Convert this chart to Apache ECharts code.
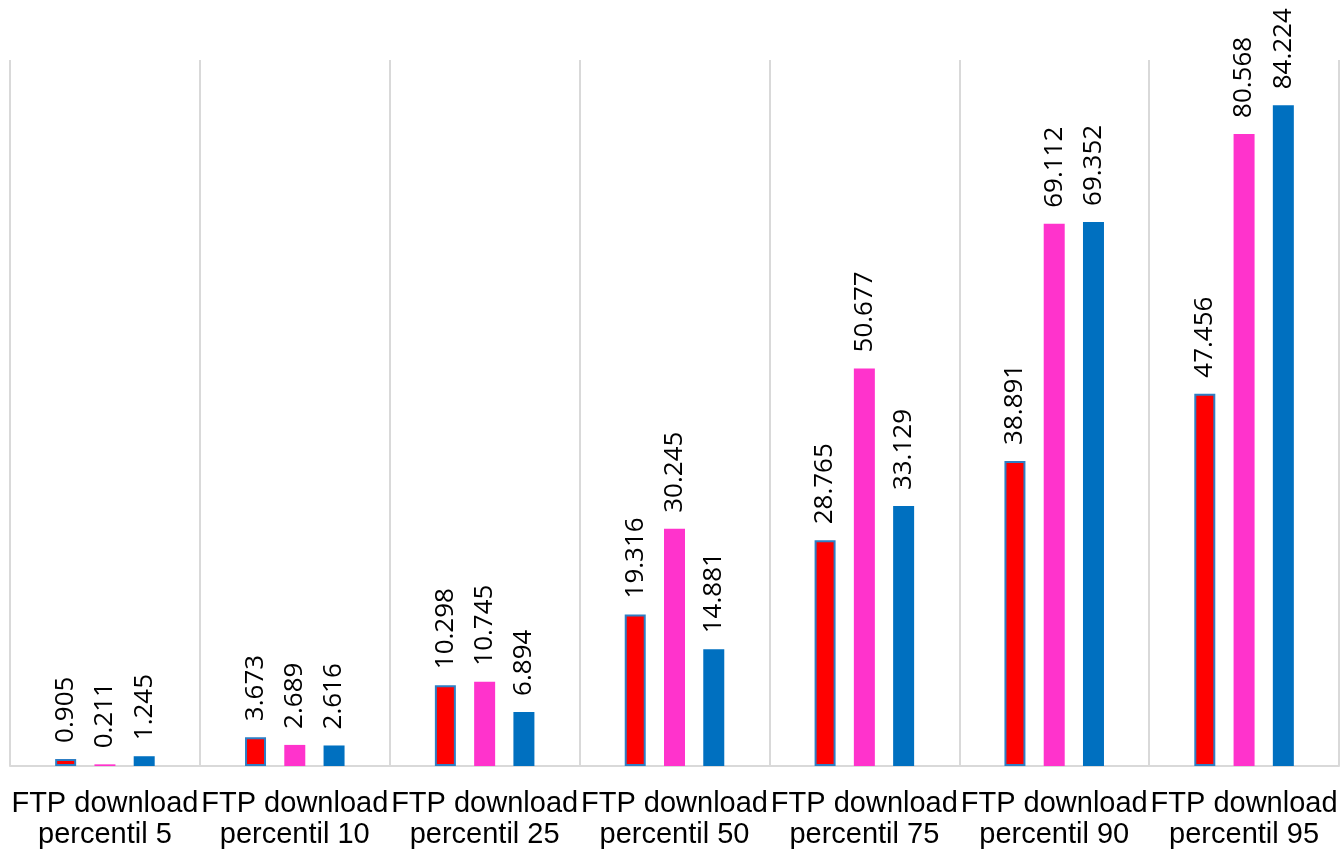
<!DOCTYPE html>
<html>
<head>
<meta charset="utf-8">
<script src="https://cdn.jsdelivr.net/npm/echarts@6/dist/echarts.min.js"></script>
<style>
html,body{margin:0;padding:0;background:#fff;}
#chart{width:1344px;height:855px;}
</style>
</head>
<body>
<div id="chart"></div>
<script>
var categories = [
  "FTP download\npercentil 5",
  "FTP download\npercentil 10",
  "FTP download\npercentil 25",
  "FTP download\npercentil 50",
  "FTP download\npercentil 75",
  "FTP download\npercentil 90",
  "FTP download\npercentil 95"
];
var seriesRed  = [0.905, 3.673, 10.298, 19.316, 28.765, 38.891, 47.456];
var seriesPink = [0.211, 2.689, 10.745, 30.245, 50.677, 69.112, 80.568];
var seriesBlue = [1.245, 2.616, 6.894, 14.881, 33.129, 69.352, 84.224];

var labelCfg = {
  show: true,
  position: 'top',
  rotate: 90,
  align: 'left',
  verticalAlign: 'middle',
  distance: 16,
  fontFamily: 'Open Sans',
  fontSize: 26,
  color: '#000',
  formatter: function (p) { return p.value.toFixed(3); }
};

var chart = echarts.init(document.getElementById('chart'));
chart.setOption({
  animation: false,
  backgroundColor: '#fff',
  grid: { left: 10, right: 5, top: 60, bottom: 89, containLabel: false },
  xAxis: {
    type: 'category',
    data: categories,
    boundaryGap: true,
    axisLine: { show: true, lineStyle: { color: '#d9d9d9', width: 2 } },
    axisTick: { show: false },
    splitLine: { show: true, lineStyle: { color: '#d9d9d9', width: 2 } },
    axisLabel: {
      interval: 0,
      margin: 22,
      fontFamily: 'Liberation Sans',
      fontSize: 29,
      lineHeight: 31,
      color: '#000'
    }
  },
  yAxis: {
    type: 'value',
    min: 0,
    max: 90,
    show: false,
    splitLine: { show: false }
  },
  series: [
    {
      type: 'bar', data: seriesRed, barWidth: 21, barGap: '87%',
      itemStyle: { color: '#ff0000', borderColor: '#2e7ec4', borderWidth: 2 },
      label: labelCfg
    },
    {
      type: 'bar', data: seriesPink, barWidth: 21, barGap: '87%',
      itemStyle: { color: '#ff33cc' },
      label: labelCfg
    },
    {
      type: 'bar', data: seriesBlue, barWidth: 21, barGap: '87%',
      itemStyle: { color: '#0070c0' },
      label: labelCfg
    }
  ]
});
</script>
</body>
</html>
